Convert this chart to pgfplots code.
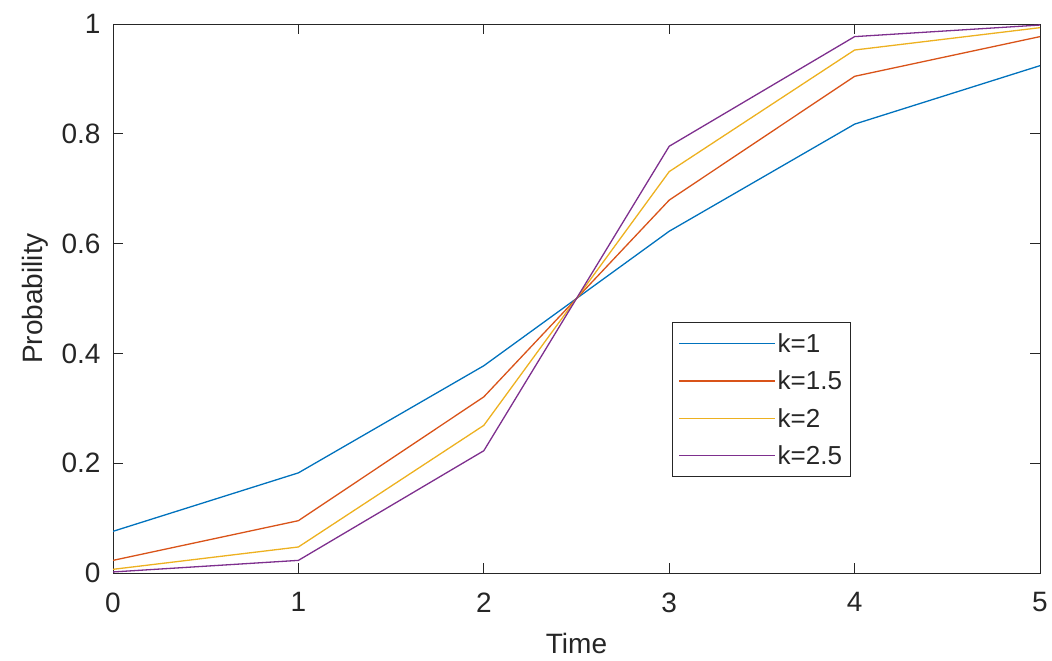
\documentclass[border=0pt]{standalone}
\usepackage{pgfplots}
\pgfplotsset{compat=1.18}
\usepackage{fontspec}
\setmainfont{Liberation Sans}
\definecolor{c1}{rgb}{0,0.447,0.741}
\definecolor{c2}{rgb}{0.85,0.325,0.098}
\definecolor{c3}{rgb}{0.929,0.694,0.125}
\definecolor{c4}{rgb}{0.494,0.184,0.556}
\definecolor{axc}{rgb}{0.15,0.15,0.15}
\begin{document}
\begin{tikzpicture}
\begin{axis}[
  scale only axis,
  width=927pt, height=549pt,
  xmin=0, xmax=5, ymin=0, ymax=1,
  xtick={0,1,2,3,4,5},
  ytick={0,0.2,0.4,0.6,0.8,1},
  tick align=inside,
  major tick length=10pt,
  axis line style={axc, line width=0.9pt},
  tick style={axc, line width=0.9pt},
  every tick label/.append style={font=\fontsize{28}{30}\selectfont, text=axc},
  /pgf/number format/assume math mode=true,
  yticklabel style={/pgf/number format/fixed, xshift=-9pt},
  xticklabel style={yshift=-16pt},
  xlabel={Time}, ylabel={Probability},
  label style={font=\fontsize{28}{30}\selectfont, text=axc},
  xlabel style={yshift=-14pt},
  ylabel style={yshift=6pt},
  legend style={at={(0.603,0.457)}, anchor=north west, draw=axc, line width=0.9pt,
    font=\fontsize{26}{28}\selectfont, text=axc, row sep=13pt, inner xsep=6pt, inner ysep=9pt},
  legend cell align=left,
  legend image code/.code={\draw[#1, line width=1.3pt] (0pt,0pt) -- (90pt,0pt); \path (0pt,0pt) -- (96pt,0pt);},
  every axis plot/.append style={line width=1.3pt},
]
\addplot[c1] coordinates {(0,0.0759) (1,0.1824) (2,0.3775) (3,0.6225) (4,0.8176) (5,0.9241)};
\addlegendentry{k=1}
\addplot[c2] coordinates {(0,0.0230) (1,0.0953) (2,0.3208) (3,0.6792) (4,0.9047) (5,0.9770)};
\addlegendentry{k=1.5}
\addplot[c3] coordinates {(0,0.0067) (1,0.0474) (2,0.2689) (3,0.7311) (4,0.9526) (5,0.9933)};
\addlegendentry{k=2}
\addplot[c4] coordinates {(0,0.0019) (1,0.0230) (2,0.2227) (3,0.7773) (4,0.9770) (5,0.9981)};
\addlegendentry{k=2.5}
\coordinate (SW) at (rel axis cs:0,0);
\coordinate (NE) at (rel axis cs:1,1);
\end{axis}
\pgfresetboundingbox
\path[use as bounding box] ([shift={(-113pt,-87pt)}]SW) rectangle ([shift={(12pt,24pt)}]NE);
\end{tikzpicture}
\end{document}
